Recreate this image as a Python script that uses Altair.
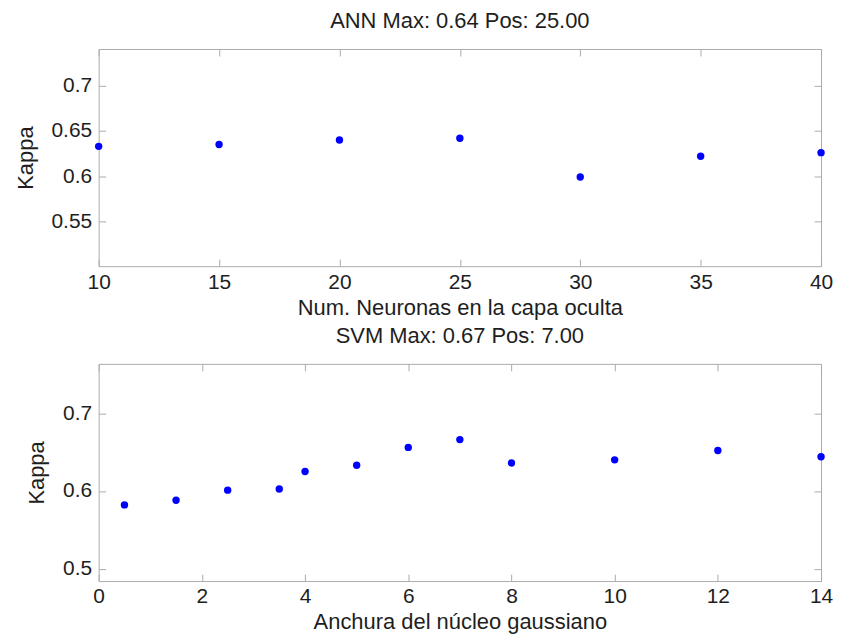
import altair as alt
import pandas as pd

ann_x = [10, 15, 20, 25, 30, 35, 40]
ann_y = [0.633, 0.635, 0.640, 0.642, 0.599, 0.622, 0.626]

svm_x = [0.5, 1.5, 2.5, 3.5, 4, 5, 6, 7, 8, 10, 12, 14]
svm_y = [0.582, 0.588, 0.601, 0.6025, 0.625, 0.633, 0.656, 0.666, 0.636, 0.640, 0.652, 0.644]

ann_xticks = [10, 15, 20, 25, 30, 35, 40]
ann_yticks = [0.55, 0.6, 0.65, 0.7]
svm_xticks = [0, 2, 4, 6, 8, 10, 12, 14]
svm_yticks = [0.5, 0.6, 0.7]

W, H = 725, 218
FONT = "Liberation Sans"
TXT = "#1e1e1e"
FRAME = "#ababab"
TS = 7
LFS = 21
TFS = 22


def panel(xs, ys, xdom, ydom, xticks, yticks, title, xtitle, toff):
    df = pd.DataFrame({"x": xs, "y": ys})
    base = alt.Chart(df)
    xs_ = alt.Scale(domain=xdom, nice=False, zero=False)
    ys_ = alt.Scale(domain=ydom, nice=False, zero=False)
    pts = base.mark_circle(size=55, color="#0000ff", opacity=1).encode(
        x=alt.X("x:Q", scale=xs_, axis=alt.Axis(
            values=xticks, format="d", title=xtitle, ticks=False, domain=False,
            grid=False, labelFontSize=LFS, titleFontSize=TFS, labelFont=FONT,
            titleFont=FONT, labelColor=TXT, titleColor=TXT, titleFontWeight="normal",
            labelPadding=5, titlePadding=5, labelFlush=False)),
        y=alt.Y("y:Q", scale=ys_, axis=alt.Axis(
            values=yticks, format="~g", title="Kappa", ticks=False, domain=False,
            grid=False, labelFontSize=LFS, titleFontSize=TFS, labelFont=FONT,
            titleFont=FONT, labelColor=TXT, titleColor=TXT, titleFontWeight="normal",
            labelPadding=7, titlePadding=14)),
    )
    t1 = base.mark_point(opacity=0).encode(
        x=alt.X("x:Q", scale=xs_, axis=alt.Axis(
            orient="top", offset=-H, values=xticks, labels=False, title=None,
            domain=False, grid=False, tickSize=TS, tickColor=FRAME)),
        y=alt.Y("y:Q", scale=ys_, axis=alt.Axis(
            orient="right", offset=-W, values=yticks, labels=False, title=None,
            domain=False, grid=False, tickSize=TS, tickColor=FRAME)),
    )
    t2 = base.mark_point(opacity=0).encode(
        x=alt.X("x:Q", scale=xs_, axis=alt.Axis(
            orient="bottom", offset=-H, values=xticks, labels=False, title=None,
            domain=False, grid=False, tickSize=TS, tickColor=FRAME)),
        y=alt.Y("y:Q", scale=ys_, axis=alt.Axis(
            orient="left", offset=-W, values=yticks, labels=False, title=None,
            domain=False, grid=False, tickSize=TS, tickColor=FRAME)),
    )
    return alt.layer(t1, t2, pts).resolve_axis(x="independent", y="independent").properties(
        width=W, height=H,
        title=alt.TitleParams(title, fontSize=TFS, font=FONT, color=TXT,
                              fontWeight="normal", anchor="middle", offset=toff),
    )


top = panel(ann_x, ann_y, [10, 40], [0.5, 0.741], ann_xticks, ann_yticks,
            "ANN Max: 0.64 Pos: 25.00", "Num. Neuronas en la capa oculta", 16)
bottom = panel(svm_x, svm_y, [0, 14], [0.484, 0.7635], svm_xticks, svm_yticks,
               "SVM Max: 0.67 Pos: 7.00", "Anchura del núcleo gaussiano", 15)

chart = alt.vconcat(top, bottom, spacing=6).configure_view(
    stroke=FRAME, strokeWidth=1
).properties(padding={"left": 5, "top": 0, "right": 0, "bottom": 0})

chart.save("out.html", embed_options={"renderer": "svg", "actions": False})
